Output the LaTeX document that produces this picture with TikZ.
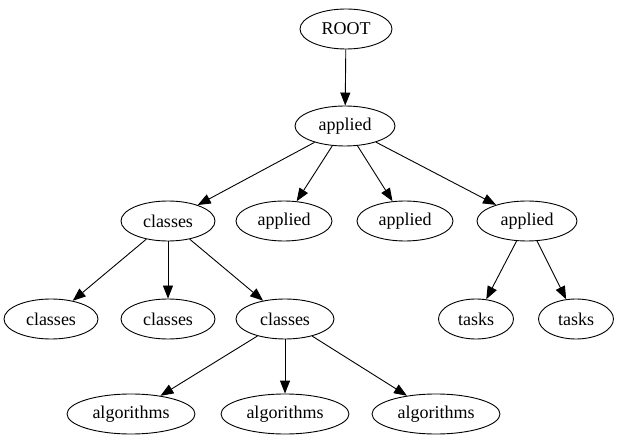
\documentclass[tikz,border=0pt]{standalone}
\usepackage{fontspec}
\setmainfont{Liberation Serif}
\usetikzlibrary{shapes.geometric,arrows.meta}
\begin{document}
\begin{tikzpicture}[x=1pt,y=-1pt,
  nd/.style={draw, ellipse, line width=0.9pt, minimum height=40pt, inner sep=0pt, font=\fontsize{18}{20}\selectfont},
  edge/.style={-{Triangle[length=13pt,width=10pt]}, line width=0.9pt}]
\useasboundingbox (0,0) rectangle (618,443);
\node[nd, minimum width=92pt] (root) at (346,29) {ROOT};
\node[nd, minimum width=100pt] (a1) at (345,126) {applied};
\node[nd, minimum width=94pt] (c1) at (168,221) {classes};
\node[nd, minimum width=96pt] (a2) at (284,221) {applied};
\node[nd, minimum width=96pt] (a3) at (405,221) {applied};
\node[nd, minimum width=100pt] (a4) at (527,221) {applied};
\node[nd, minimum width=94pt] (c2) at (51,319) {classes};
\node[nd, minimum width=94pt] (c3) at (168,319) {classes};
\node[nd, minimum width=98pt] (c4) at (285,319) {classes};
\node[nd, minimum width=75pt] (t1) at (476,319) {tasks};
\node[nd, minimum width=75pt] (t2) at (576,319) {tasks};
\node[nd, minimum width=128pt] (g1) at (131,414) {algorithms};
\node[nd, minimum width=128pt] (g2) at (285,414) {algorithms};
\node[nd, minimum width=128pt] (g3) at (436,414) {algorithms};
\draw[edge] (root) -- (a1);
\draw[edge] (a1) -- (c1);
\draw[edge] (a1) -- (a2);
\draw[edge] (a1) -- (a3);
\draw[edge] (a1) -- (a4);
\draw[edge] (c1) -- (c2);
\draw[edge] (c1) -- (c3);
\draw[edge] (c1) -- (c4);
\draw[edge] (a4) -- (t1);
\draw[edge] (a4) -- (t2);
\draw[edge] (c4) -- (g1);
\draw[edge] (c4) -- (g2);
\draw[edge] (c4) -- (g3);
\end{tikzpicture}
\end{document}
